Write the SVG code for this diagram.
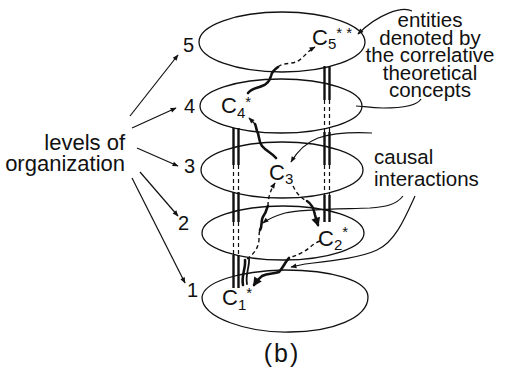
<svg xmlns="http://www.w3.org/2000/svg" width="507" height="374" viewBox="0 0 507 374">
<style>
text{font-family:"Liberation Sans",Arial,sans-serif;fill:#111}
.lbl{font-size:20.5px}
.lv{font-size:22px}
.num{font-size:20px}
.C{font-size:22px}
.sub{font-size:15px}
.sup{font-size:15px}
.ell{fill:none;stroke:#111;stroke-width:1.3}
.thin{fill:none;stroke:#111;stroke-width:1.2}
.thick{fill:none;stroke:#111;stroke-width:2.6;stroke-linecap:round}
.dash{fill:none;stroke:#111;stroke-width:1.4;stroke-dasharray:4 3}
.ps{stroke:#111;stroke-width:2.4}
.pd{stroke:#111;stroke-width:1.2;stroke-dasharray:4 3}
</style>
<defs>
<marker id="ah" viewBox="0 0 10 10" refX="9" refY="5" markerWidth="10" markerHeight="6" orient="auto" markerUnits="userSpaceOnUse"><path d="M0,1 L10,5 L0,9 z" fill="#111"/></marker>
<marker id="ahb" viewBox="0 0 10 10" refX="8" refY="5" markerWidth="11" markerHeight="9" orient="auto" markerUnits="userSpaceOnUse"><path d="M0,0 L10,5 L0,10 z" fill="#111"/></marker>
</defs>

<g id="level5"><ellipse class="ell" cx="282" cy="42" rx="83" ry="30"/><text class="num" x="183" y="52">5</text></g>
<g id="level4"><ellipse class="ell" cx="281" cy="106" rx="81" ry="27"/><text class="num" x="184" y="113">4</text></g>
<g id="level3"><ellipse class="ell" cx="282" cy="170" rx="81" ry="28"/><text class="num" x="184" y="173">3</text></g>
<g id="level2"><ellipse class="ell" cx="283" cy="233" rx="81" ry="27"/><text class="num" x="178" y="230">2</text></g>
<g id="level1"><path class="ell" d="M202,297 C204,282 238,271 285,270 C330,270 368,280 368,297 C368,318 332,332 290,332 C248,333 202,318 202,297 Z"/><text class="num" x="187" y="297">1</text></g>

<g id="pillars">
<line class="ps" x1="233.5" y1="128" x2="233.5" y2="165"/><line class="ps" x1="238.5" y1="128" x2="238.5" y2="165"/>
<line class="pd" x1="233.5" y1="165" x2="233.5" y2="192"/><line class="pd" x1="238.5" y1="165" x2="238.5" y2="192"/>
<line class="ps" x1="233.5" y1="192" x2="233.5" y2="222"/><line class="ps" x1="238.5" y1="192" x2="238.5" y2="222"/>
<line class="pd" x1="233.5" y1="222" x2="233.5" y2="255"/><line class="pd" x1="238.5" y1="222" x2="238.5" y2="255"/>
<line class="ps" x1="233.5" y1="255" x2="233.5" y2="288"/><line class="ps" x1="238.5" y1="255" x2="238.5" y2="288"/>
<line class="ps" x1="324.5" y1="66" x2="324.5" y2="100"/><line class="ps" x1="329.5" y1="66" x2="329.5" y2="100"/>
<line class="pd" x1="324.5" y1="100" x2="324.5" y2="132"/><line class="pd" x1="329.5" y1="100" x2="329.5" y2="132"/>
<line class="ps" x1="324.5" y1="132" x2="324.5" y2="165"/><line class="ps" x1="329.5" y1="132" x2="329.5" y2="165"/>
<line class="pd" x1="324.5" y1="165" x2="324.5" y2="195"/><line class="pd" x1="329.5" y1="165" x2="329.5" y2="195"/>
<line class="ps" x1="324.5" y1="195" x2="324.5" y2="222"/><line class="ps" x1="329.5" y1="195" x2="329.5" y2="222"/>
</g>

<g id="C5"><text class="C" x="312" y="45">C<tspan class="sub" dy="4">5</tspan><tspan class="sup" dy="-11">* *</tspan></text></g>
<g id="C4"><text class="C" x="221" y="113">C<tspan class="sub" dy="5">4</tspan><tspan class="sup" dy="-11">*</tspan></text></g>
<g id="C3"><text class="C" x="269" y="180">C<tspan class="sub" dy="4">3</tspan></text></g>
<g id="C2"><text class="C" x="318" y="246">C<tspan class="sub" dy="4">2</tspan><tspan class="sup" dy="-13">*</tspan></text></g>
<g id="C1"><text class="C" x="222" y="305">C<tspan class="sub" dy="5">1</tspan><tspan class="sup" dy="-12">*</tspan></text></g>

<g id="labels">
<text class="lv" text-anchor="end"><tspan x="125" y="150">levels of</tspan><tspan x="125" y="171">organization</tspan></text>
<text class="lbl" text-anchor="middle"><tspan x="430" y="27">entities</tspan><tspan x="430" y="44.5">denoted by</tspan><tspan x="430" y="62">the correlative</tspan><tspan x="430" y="79.5">theoretical</tspan><tspan x="430" y="97">concepts</tspan></text>
<text class="lbl"><tspan x="374" y="164">causal</tspan><tspan x="374" y="186">interactions</tspan></text>
<text x="282" y="362" text-anchor="middle" style="font-size:25px;letter-spacing:2px">(b)</text>
</g>

<g id="connectors">
<path class="thin" d="M130,116 L178,55" marker-end="url(#ah)"/>
<path class="thin" d="M132,128 L176,108" marker-end="url(#ah)"/>
<path class="thin" d="M137,148 L178,166" marker-end="url(#ah)"/>
<path class="thin" d="M140,172 L178,216" marker-end="url(#ah)"/>
<path class="thin" d="M132,178 L185,283" marker-end="url(#ah)"/>

<path class="thin" d="M412,11 C402,6 378,14 358,34" marker-end="url(#ah)"/>
<path class="thin" d="M421,99 C417,106 400,108 383,108 C370,108 362,106 356,106"/>
<path class="thin" d="M372,133 C350,132 330,134 318,138 C305,143 297,152 291,162" marker-end="url(#ah)"/>
<path class="thin" d="M403,196 C396,205 385,207 370,208 C340,209 300,209 285,213 C275,216 268,219 263,223" marker-end="url(#ah)"/>
<path class="thin" d="M415,196 C405,218 395,242 377,250 C360,258 330,261 305,264 L291,267" marker-end="url(#ah)"/>

<path class="thick" d="M248,93 C252,88 258,88 262,86 C268,84 270,80 271,76 C272,71 275,69 278,67"/>
<path class="dash" d="M278,67 C282,63 290,64 296,62 C302,60 306,52 315,47" marker-end="url(#ah)"/>

<path class="thick" d="M276,158 C272,153 266,151 262,146 C258,141 260,136 257,131 C256,128 256,126 255,124"/>
<path class="thin" d="M255,124 L249,118" marker-end="url(#ah)"/>

<path class="dash" d="M293,186 C296,192 300,198 307,201"/>
<path class="thick" d="M307,201 C312,204 314,210 315,215 C316,219 317,222 318,225" marker-end="url(#ahb)"/>

<path class="thick" d="M243,285 C241,276 246,268 245,260"/>
<path class="thick" d="M247,284 C245,275 250,266 249,258" style="stroke-width:1.8"/>
<path class="dash" d="M247,259 C252,255 258,250 259,240 C259,236 259,232 260,230"/>
<path class="thick" d="M260,230 C263,225 260,220 264,215 C267,211 266,209 268,206"/>
<path class="dash" d="M268,206 C268,198 270,191 275,183" marker-end="url(#ah)"/>

<path class="dash" d="M320,241 C312,244 308,250 303,252 C298,255 294,256 289,258"/>
<path class="thick" d="M289,258 C285,262 283,268 279,272 C274,274 268,273 262,276 C258,279 256,282 254,285" marker-end="url(#ahb)"/>
</g>
</svg>
